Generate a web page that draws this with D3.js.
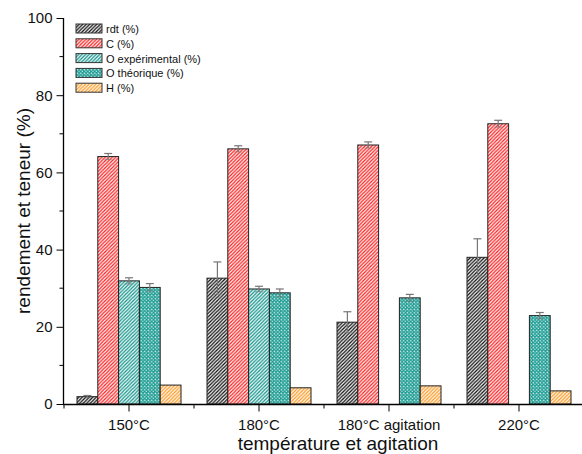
<!DOCTYPE html>
<html><head><meta charset="utf-8">
<script src="https://cdn.jsdelivr.net/npm/d3@7"></script>
<style>body{margin:0;background:#fff}svg{display:block;font-family:"Liberation Sans",Arial,sans-serif}</style>
</head><body><svg id="c" width="582" height="454"></svg>
<script>
const categories = ["150°C", "180°C", "180°C agitation", "220°C"];
const seriesNames = ["rdt (%)", "C (%)", "O expérimental (%)", "O théorique (%)", "H (%)"];
const rdt      = [1.9, 32.6, 21.2, 38.0];
const rdtErr   = [0.3, 4.2, 2.7, 4.8];
const carbon   = [64.1, 66.1, 67.1, 72.6];
const carbonErr= [0.8, 0.8, 0.8, 0.9];
const oExp     = [31.9, 29.8, null, null];
const oExpErr  = [0.8, 0.7, null, null];
const oTheo    = [30.2, 28.8, 27.5, 22.9];
const oTheoErr = [1.0, 1.0, 0.9, 0.8];
const hydrogen = [4.9, 4.2, 4.7, 3.4];
const yTicks = [0, 20, 40, 60, 80, 100];
const yMinorTicks = [10, 30, 50, 70, 90];

const values = [rdt, carbon, oExp, oTheo, hydrogen];
const errors = [rdtErr, carbonErr, oExpErr, oTheoErr, [null,null,null,null]];
const colors = ["#111111", "#ff2222", "#13958b", "#1a9b92", "#ff9a22"];
const kinds = ["hatch", "hatch", "hatch", "mesh", "hatch"];

const svg = d3.select("#c");
const defs = svg.append("defs");
kinds.forEach((k, i) => {
  const p = defs.append("pattern").attr("id", "p" + i).attr("patternUnits", "userSpaceOnUse")
    .attr("width", 3.5).attr("height", 3.5);
  if (k === "hatch") {
    p.append("rect").attr("width", 3.5).attr("height", 3.5).attr("fill", "#fff");
    p.append("path").attr("d", "M-1,1 L1,-1 M0,3.5 L3.5,0 M2.5,4.5 L4.5,2.5")
      .attr("stroke", colors[i]).attr("stroke-width", 1.3);
  } else {
    p.append("rect").attr("width", 3.5).attr("height", 3.5).attr("fill", colors[i]);
    p.append("rect").attr("x", 0.6).attr("y", 0.6).attr("width", 1.4).attr("height", 1.4).attr("fill", "#fff");
    p.append("rect").attr("x", 2.35).attr("y", 2.35).attr("width", 1.1).attr("height", 1.1).attr("fill", "#dff3f0");
  }
});

const x0 = 64, x1 = 584, yTop = 18, yBot = 404;
const x = d3.scaleBand().domain(categories).range([x0, x1]).paddingInner(0).paddingOuter(0);
const y = d3.scaleLinear().domain([0, 100]).range([yBot, yTop]);
const barW = x.bandwidth() * 0.16;
const xs = d3.scaleBand().domain(d3.range(5)).range([0, barW * 5]);

// bars
values.forEach((vals, si) => {
  const g = svg.append("g");
  categories.forEach((cat, ci) => {
    const v = vals[ci];
    if (v == null) return;
    const cx = x(cat) + x.bandwidth() / 2 - barW * 2.5 + xs(si);
    g.append("rect").attr("x", cx).attr("y", y(v)).attr("width", barW).attr("height", y(0) - y(v))
      .attr("fill", "url(#p" + si + ")").attr("stroke", "#222").attr("stroke-width", 1);
    const e = errors[si][ci];
    if (e != null) {
      const mx = cx + barW / 2;
      const eg = svg.append("g").attr("stroke", "#777").attr("stroke-width", 1.2);
      eg.append("line").attr("x1", mx).attr("x2", mx).attr("y1", y(v + e)).attr("y2", y(v - e));
      eg.append("line").attr("x1", mx - 4).attr("x2", mx + 4).attr("y1", y(v + e)).attr("y2", y(v + e));
      eg.append("line").attr("x1", mx - 4).attr("x2", mx + 4).attr("y1", y(v - e)).attr("y2", y(v - e)).attr("stroke-opacity", 0.5);
    }
  });
});

// y axis
const ya = svg.append("g").attr("transform", `translate(${x0 - 0.5},0)`);
ya.call(d3.axisLeft(y).tickValues(yTicks).tickSize(7).tickPadding(4).tickFormat(d3.format("d")));
ya.selectAll(".minor").data(yMinorTicks).enter().append("line").attr("class", "minor")
  .attr("x1", 0).attr("x2", -4).attr("y1", d => y(d)).attr("y2", d => y(d)).attr("stroke", "#000");
ya.select(".domain").attr("d", `M0,${yTop}V${yBot}`).attr("stroke-width", 1.3);
ya.selectAll("text").attr("font-size", 15).attr("fill", "#111").attr("font-family", "Liberation Sans, Arial");

// x axis
const xa = svg.append("g").attr("transform", `translate(0,${yBot + 0.5})`);
xa.call(d3.axisBottom(x).tickSize(7).tickPadding(8));
xa.select(".domain").attr("d", `M${x0 - 1},0H${x1}`).attr("stroke-width", 1.3);
xa.selectAll(".bnd").data(d3.range(categories.length + 1)).enter().append("line").attr("class", "bnd")
  .attr("x1", d => x0 + d * x.bandwidth()).attr("x2", d => x0 + d * x.bandwidth())
  .attr("y1", 0).attr("y2", 4).attr("stroke", "#000");
xa.selectAll("text").attr("font-size", 15).attr("fill", "#111").attr("font-family", "Liberation Sans, Arial");

// axis titles
svg.append("text").attr("transform", `translate(30,${(yTop + yBot) / 2}) rotate(-90)`)
  .attr("text-anchor", "middle").attr("font-size", 19).attr("fill", "#111").text("rendement et teneur (%)");
svg.append("text").attr("x", 338).attr("y", 450).attr("text-anchor", "middle")
  .attr("font-size", 19).attr("fill", "#111").text("température et agitation");

// legend
const lg = svg.append("g").attr("transform", "translate(76,24)");
seriesNames.forEach((n, i) => {
  const row = lg.append("g").attr("transform", `translate(0,${i * 14.8})`);
  row.append("rect").attr("x", 0).attr("y", 0).attr("width", 26).attr("height", 9)
    .attr("fill", "url(#p" + i + ")").attr("stroke", "#333").attr("stroke-width", 1);
  row.append("text").attr("x", 30).attr("y", 9).attr("font-size", 11).attr("fill", "#111").text(n);
});
</script></body></html>
